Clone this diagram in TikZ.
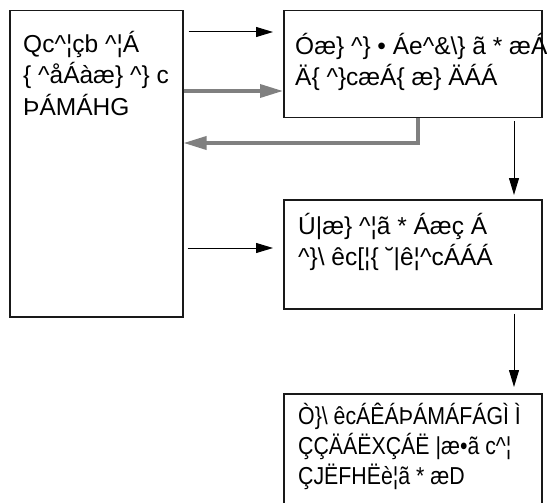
\documentclass[tikz,border=0pt]{standalone}
\usepackage{fontspec}
\setmainfont{Liberation Sans}
\usetikzlibrary{arrows.meta,calc}

\tikzset{
   box/.style={draw=black!90, line width=1.5pt, anchor=north west, inner sep=0pt},
   boxtext/.style={anchor=north west, inner sep=0pt, align=left, font=\fontsize{24.5}{31.5}\selectfont, execute at begin node={\strut}},
   narrowtext/.style={boxtext, font=\fontsize{24.5}{30}\selectfont\addfontfeature{FakeStretch=0.87}},
   flow/.style={-{Triangle[length=17pt,width=10pt]}, line width=1pt},
   back/.style={-{Triangle[length=23pt,width=13pt]}, line width=3.5pt, draw=black!50},
}

\begin{document}
\begin{tikzpicture}[x=1pt, y=-1pt]
      \useasboundingbox (0,0) rectangle (547,503);
      \clip (0,0) rectangle (547,503);

      \node[box, minimum width=173pt, minimum height=306pt] (source) at (9,10) {};
      \node[box, minimum width=258pt, minimum height=107pt] (check) at (283,10) {};
      \node[box, minimum width=258pt, minimum height=109pt] (plan) at (283,199) {};
      \node[box, minimum width=258pt, minimum height=140pt] (result) at (283,393) {};

      \node[boxtext] (sourcetext) at (23,31) {Qc\textasciicircum¦çb \textasciicircum¦Á\\\{ \textasciicircum åÁàæ\} \textasciicircum\} c\\ÞÁMÁHG};
      \node[boxtext] (checktext) at (295,33) {Óæ\} \textasciicircum\} • Áe\textasciicircum\&\textbackslash\} ã * æÁ\\Ä\{ \textasciicircum\}cæÁ\{ æ\} ÄÁÁ};
      \node[boxtext] (plantext) at (298,213) {Ú|æ\} \textasciicircum¦ã * Áæç Á\\\textasciicircum\}\textbackslash{} êc[¦\{ ˘|ê¦\textasciicircum cÁÁÁ};
      \node[narrowtext] (resulttext) at (298,403) {Ò\}\textbackslash{} êcÁÊÁÞÁMÁFÁGÌ Ì\\ÇÇÄÁËXÇÁË |æ•ã c\textasciicircum¦\\ÇJËFHËè¦ã * æD};

      \draw[flow] ($(source.east |- 0,32)+(5,0)$) -- ($(check.west |- 0,32)+(-10,0)$);
      \draw[back] (source.east |- 0,91) -- (check.west |- 0,91);
      \draw[back] (check.south -| 418,0) |- (source.east |- 0,143);
      \draw[flow] ($(check.south -| 514,0)+(0,3)$) -- ($(plan.north -| 514,0)+(0,-4)$);
      \draw[flow] ($(source.east |- 0,248)+(4,0)$) -- ($(plan.west |- 0,248)+(-10,0)$);
      \draw[flow] ($(plan.south -| 514,0)+(0,4)$) -- ($(result.north -| 514,0)+(0,-6)$);
\end{tikzpicture}
\end{document}
